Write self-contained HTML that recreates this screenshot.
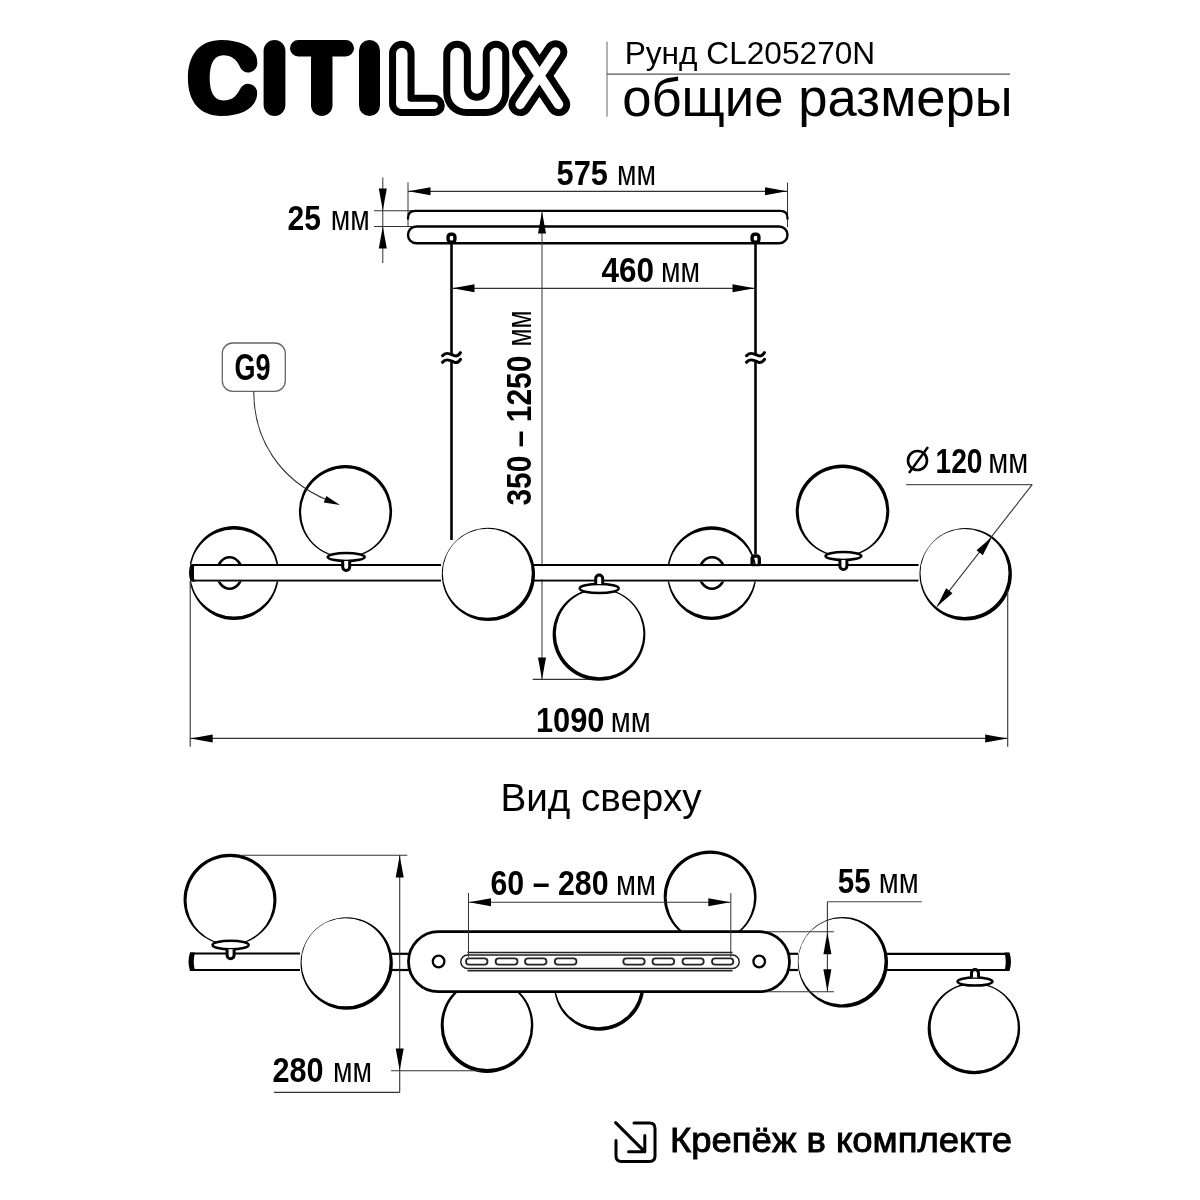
<!DOCTYPE html>
<html><head><meta charset="utf-8"><title>CITILUX Рунд CL205270N</title>
<style>html,body{margin:0;padding:0;background:#fff;width:1200px;height:1200px;overflow:hidden}svg{display:block;will-change:transform}text{font-family:"Liberation Sans",sans-serif}</style></head>
<body><svg width="1200" height="1200" viewBox="0 0 1200 1200"><defs><clipPath id="nobar"><path d="M0,0 H1200 V564 H0 Z M0,581.5 H1200 V1200 H0 Z"/></clipPath><clipPath id="nocan"><path d="M0,0 H1200 V1200 H0 Z M438.5,931.7 H759.5 A30,30 0 0 1 759.5,991.7 H438.5 A30,30 0 0 1 438.5,931.7 Z" clip-rule="evenodd"/></clipPath></defs><rect width="1200" height="1200" fill="#fff"/><path d="M257.2,62 C257.2,49 243,39.9 221.5,39.9 C200,39.9 187.9,54 187.9,78 C187.9,102 200,115.9 221.5,115.9 C243,115.9 257.2,107 257.2,93 A9.1,9.1 0 0 0 239.5,90 C236,97 231,100.5 223.5,100.5 C214,100.5 209.7,92 209.7,78 C209.7,64 214,55.3 223.5,55.3 C231,55.3 236,59 239.5,66 A9.1,9.1 0 0 0 257.2,62 Z" fill="#000"/>
<line x1="274.5" y1="51" x2="274.5" y2="105" stroke="#000" stroke-width="21.8" stroke-linecap="round"/>
<line x1="298.25" y1="48.25" x2="345.75" y2="48.25" stroke="#000" stroke-width="16.5" stroke-linecap="round"/>
<line x1="321.75" y1="58" x2="321.75" y2="105.25" stroke="#000" stroke-width="21.5" stroke-linecap="round"/>
<line x1="369.5" y1="50.5" x2="369.5" y2="105.5" stroke="#000" stroke-width="21" stroke-linecap="round"/>
<path d="M392.55,53.5 A9.25,9.25 0 0 1 411.05,53.5 V98.35 H434.3 A7.05,7.05 0 0 1 434.3,112.45 H401.55 A9,9 0 0 1 392.55,103.45 Z M446.75,54.5 A10.3,10.3 0 0 1 467.35,54.5 V87.8 A9.45,9.45 0 0 0 486.25,87.8 V54 A9.75,9.75 0 0 1 505.75,54 V92 C505.75,104 497,112.45 486,112.45 H466.5 C455.5,112.45 446.75,104 446.75,92 Z" fill="none" stroke="#000" stroke-width="7" stroke-linejoin="round"/>
<path d="M523.8,52 L558.5,104.4 M555.6,52 L520.2,104.4" fill="none" stroke="#000" stroke-width="23.4" stroke-linecap="round"/>
<path d="M523.8,52 L558.5,104.4 M555.6,52 L520.2,104.4" fill="none" stroke="#fff" stroke-width="9.6" stroke-linecap="round"/>
<line x1="607" y1="41.7" x2="607" y2="116.7" stroke="#888" stroke-width="1.3" stroke-linecap="butt"/>
<line x1="607" y1="74.2" x2="1010" y2="74.2" stroke="#555" stroke-width="1.2" stroke-linecap="butt"/>
<text x="624.7" y="64.2" font-family="Liberation Sans" font-size="31.5" font-weight="normal" text-anchor="start" fill="#000" textLength="250.5" lengthAdjust="spacingAndGlyphs">Рунд CL205270N</text>
<text x="622.2" y="115.8" font-family="Liberation Sans" font-size="53.6" font-weight="normal" text-anchor="start" fill="#000" textLength="390.5" lengthAdjust="spacingAndGlyphs">общие размеры</text>
<line x1="408" y1="182.5" x2="408" y2="227" stroke="#333" stroke-width="1.0" stroke-linecap="butt"/>
<line x1="787.5" y1="182.5" x2="787.5" y2="227" stroke="#333" stroke-width="1.0" stroke-linecap="butt"/>
<line x1="408" y1="191.3" x2="787.5" y2="191.3" stroke="#333" stroke-width="1.2" stroke-linecap="butt"/>
<path d="M408.50,191.30 L430.50,187.30 L430.50,195.30 Z" fill="#000"/>
<path d="M787.00,191.30 L765.00,195.30 L765.00,187.30 Z" fill="#000"/>
<text x="556.5" y="184.75" font-family="Liberation Sans" font-size="35.5" font-weight="bold" text-anchor="start" fill="#000" textLength="51.5" lengthAdjust="spacingAndGlyphs">575</text>
<text x="616.9000000000001" y="184.75" font-family="Liberation Sans" font-size="34.435" font-weight="normal" text-anchor="start" fill="#000" textLength="39.0" lengthAdjust="spacingAndGlyphs">мм</text>
<line x1="382.8" y1="177.5" x2="382.8" y2="263" stroke="#333" stroke-width="1.0" stroke-linecap="butt"/>
<path d="M382.80,210.50 L378.80,188.50 L386.80,188.50 Z" fill="#000"/>
<path d="M382.80,226.50 L386.80,248.50 L378.80,248.50 Z" fill="#000"/>
<line x1="374" y1="210.8" x2="412" y2="210.8" stroke="#333" stroke-width="1.1" stroke-linecap="butt"/>
<line x1="374" y1="226.5" x2="412" y2="226.5" stroke="#333" stroke-width="1.1" stroke-linecap="butt"/>
<text x="287.5" y="229.7" font-family="Liberation Sans" font-size="35.5" font-weight="bold" text-anchor="start" fill="#000" textLength="33.5" lengthAdjust="spacingAndGlyphs">25</text>
<text x="330.7" y="229.7" font-family="Liberation Sans" font-size="34.435" font-weight="normal" text-anchor="start" fill="#000" textLength="39.0" lengthAdjust="spacingAndGlyphs">мм</text>
<path d="M408,219.5 V218 Q408,210.8 415.2,210.8 H780.3 Q787.5,210.8 787.5,218 V219.5" fill="none" stroke="#000" stroke-width="2.2"/>
<rect x="408" y="226.5" width="379.5" height="16.8" rx="8.4" fill="none" stroke="#000" stroke-width="2.4"/>
<rect x="448.1" y="234.3" width="6.8" height="7.8" rx="2.5" fill="#fff" stroke="#000" stroke-width="3.4"/>
<rect x="752.1" y="234.3" width="6.8" height="7.8" rx="2.5" fill="#fff" stroke="#000" stroke-width="3.4"/>
<line x1="451.5" y1="243" x2="451.5" y2="355" stroke="#000" stroke-width="2.6" stroke-linecap="butt"/>
<line x1="451.5" y1="360" x2="451.5" y2="540" stroke="#000" stroke-width="2.6" stroke-linecap="butt"/>
<path d="M442.5,355.7 C446.5,350.7 451.5,354.7 454.5,355.7 C457.5,356.7 459.5,354.2 460.5,352.7" fill="none" stroke="#000" stroke-width="3" stroke-linecap="round"/>
<path d="M442.5,362.3 C446.5,357.3 451.5,361.3 454.5,362.3 C457.5,363.3 459.5,360.8 460.5,359.3" fill="none" stroke="#000" stroke-width="3" stroke-linecap="round"/>
<line x1="755.5" y1="243" x2="755.5" y2="355" stroke="#000" stroke-width="2.6" stroke-linecap="butt"/>
<line x1="755.5" y1="360" x2="755.5" y2="554" stroke="#000" stroke-width="2.6" stroke-linecap="butt"/>
<path d="M746.5,355.7 C750.5,350.7 755.5,354.7 758.5,355.7 C761.5,356.7 763.5,354.2 764.5,352.7" fill="none" stroke="#000" stroke-width="3" stroke-linecap="round"/>
<path d="M746.5,362.3 C750.5,357.3 755.5,361.3 758.5,362.3 C761.5,363.3 763.5,360.8 764.5,359.3" fill="none" stroke="#000" stroke-width="3" stroke-linecap="round"/>
<rect x="752.1" y="556" width="7.2" height="10" rx="2.5" fill="#fff" stroke="#000" stroke-width="3.3"/>
<line x1="451.5" y1="288.3" x2="755.5" y2="288.3" stroke="#333" stroke-width="1.2" stroke-linecap="butt"/>
<path d="M452.50,288.30 L474.50,284.30 L474.50,292.30 Z" fill="#000"/>
<path d="M754.50,288.30 L732.50,292.30 L732.50,284.30 Z" fill="#000"/>
<text x="601.5" y="282" font-family="Liberation Sans" font-size="35.5" font-weight="bold" text-anchor="start" fill="#000" textLength="52.5" lengthAdjust="spacingAndGlyphs">460</text>
<text x="661.0" y="282" font-family="Liberation Sans" font-size="34.435" font-weight="normal" text-anchor="start" fill="#000" textLength="39.0" lengthAdjust="spacingAndGlyphs">мм</text>
<line x1="542" y1="211" x2="542" y2="679.4" stroke="#444" stroke-width="1.1" stroke-linecap="butt"/>
<path d="M542.00,211.50 L546.00,233.50 L538.00,233.50 Z" fill="#000"/>
<path d="M542.00,679.40 L538.00,657.40 L546.00,657.40 Z" fill="#000"/>
<line x1="532.7" y1="679.4" x2="600" y2="679.4" stroke="#333" stroke-width="1.1" stroke-linecap="butt"/>
<text transform="translate(531.2,505.6) rotate(-90)" font-family="Liberation Sans" font-size="35.5" fill="#000"><tspan font-weight="bold" textLength="150" lengthAdjust="spacingAndGlyphs">350 – 1250</tspan><tspan dx="9" textLength="36" lengthAdjust="spacingAndGlyphs">мм</tspan></text>
<rect x="222.3" y="343" width="63" height="48.3" rx="10.5" fill="none" stroke="#666" stroke-width="1.3"/>
<text x="234.5" y="380" font-family="Liberation Sans" font-size="37.5" font-weight="bold" text-anchor="start" fill="#000" textLength="36" lengthAdjust="spacingAndGlyphs">G9</text>
<path d="M253.7,391.3 C253.7,440 280,480 327,500" fill="none" stroke="#333" stroke-width="1.1"/>
<path d="M340.00,505.00 L323.81,502.52 L326.32,495.99 Z" fill="#000"/>
<path d="M195.5,564 H190.5 Q187.5,572.75 190.5,581.5 H195.5 Q193,572.75 195.5,564 Z" fill="#000"/>
<line x1="192" y1="565" x2="441" y2="565" stroke="#000" stroke-width="2.2" stroke-linecap="butt"/>
<line x1="192" y1="580.5" x2="441" y2="580.5" stroke="#000" stroke-width="2.2" stroke-linecap="butt"/>
<line x1="533.5" y1="565" x2="918.5" y2="565" stroke="#000" stroke-width="2.2" stroke-linecap="butt"/>
<line x1="533.5" y1="580.5" x2="918.5" y2="580.5" stroke="#000" stroke-width="2.2" stroke-linecap="butt"/>
<rect x="194" y="566.2" width="724" height="13.1" fill="#fff"/>
<path d="M279.00,573.00 A45.00,47.00 0 1 0 189.00,573.00 A45.00,47.00 0 1 0 279.00,573.00 Z M277.50,573.00 A43.60,43.60 0 1 0 190.30,573.00 A43.60,43.60 0 1 0 277.50,573.00 Z" fill="#000" fill-rule="evenodd" clip-path="url(#nobar)"/>
<ellipse cx="229.6" cy="573" rx="12.7" ry="15.8" fill="none" stroke="#000" stroke-width="2.6" clip-path="url(#nobar)"/>
<path d="M392.10,511.50 A46.60,46.40 0 1 0 298.90,511.50 A46.60,46.40 0 1 0 392.10,511.50 Z M389.50,512.50 A44.20,44.20 0 1 0 301.10,512.50 A44.20,44.20 0 1 0 389.50,512.50 Z" fill="#000" fill-rule="evenodd"/>
<ellipse cx="346.2" cy="557" rx="18.5" ry="4" fill="#fff" stroke="#000" stroke-width="2.5"/>
<path d="M342.7,561 V567.0 A3.5,3.5 0 0 0 349.7,567.0 V561" fill="#fff" stroke="#000" stroke-width="3"/>
<path d="M535.00,574.40 A46.60,46.60 0 1 0 441.80,574.40 A46.60,46.60 0 1 0 535.00,574.40 Z M531.80,573.30 A44.50,44.50 0 1 0 442.80,573.30 A44.50,44.50 0 1 0 531.80,573.30 Z" fill="#000" fill-rule="evenodd"/>
<path d="M645.38,634.45 A46.38,46.23 0 1 0 552.62,634.45 A46.38,46.23 0 1 0 645.38,634.45 Z M643.38,633.50 A43.77,43.77 0 1 0 555.83,633.50 A43.77,43.77 0 1 0 643.38,633.50 Z" fill="#000" fill-rule="evenodd"/>
<ellipse cx="599.2" cy="588.5" rx="19.5" ry="4.5" fill="#fff" stroke="#000" stroke-width="2.5"/>
<path d="M595.7,584.0 V578.5 A3.5,3.5 0 0 1 602.7,578.5 V584.0" fill="#fff" stroke="#000" stroke-width="3"/>
<path d="M756.55,573.20 A44.75,46.85 0 1 0 667.05,573.20 A44.75,46.85 0 1 0 756.55,573.20 Z M755.25,573.20 A43.45,43.45 0 1 0 668.35,573.20 A43.45,43.45 0 1 0 755.25,573.20 Z" fill="#000" fill-rule="evenodd" clip-path="url(#nobar)"/>
<ellipse cx="712" cy="573" rx="13" ry="15.8" fill="none" stroke="#000" stroke-width="2.6" clip-path="url(#nobar)"/>
<path d="M889.30,510.60 A46.80,46.00 0 1 0 795.70,510.60 A46.80,46.00 0 1 0 889.30,510.60 Z M886.30,511.80 A43.80,43.80 0 1 0 798.70,511.80 A43.80,43.80 0 1 0 886.30,511.80 Z" fill="#000" fill-rule="evenodd"/>
<ellipse cx="843.4" cy="556" rx="17.9" ry="4" fill="#fff" stroke="#000" stroke-width="2.5"/>
<path d="M839.9,560 V566.0 A3.5,3.5 0 0 0 846.9,566.0 V560" fill="#fff" stroke="#000" stroke-width="3"/>
<path d="M1011.90,574.30 A46.20,46.20 0 1 0 919.50,574.30 A46.20,46.20 0 1 0 1011.90,574.30 Z M1008.50,573.10 A44.00,44.00 0 1 0 920.50,573.10 A44.00,44.00 0 1 0 1008.50,573.10 Z" fill="#000" fill-rule="evenodd"/>
<line x1="190.2" y1="581" x2="190.2" y2="746.7" stroke="#333" stroke-width="1.1" stroke-linecap="butt"/>
<line x1="1007.7" y1="591" x2="1007.7" y2="746.7" stroke="#333" stroke-width="1.1" stroke-linecap="butt"/>
<line x1="190.2" y1="738.4" x2="1007.7" y2="738.4" stroke="#333" stroke-width="1.2" stroke-linecap="butt"/>
<path d="M190.70,738.40 L212.70,734.40 L212.70,742.40 Z" fill="#000"/>
<path d="M1007.20,738.40 L985.20,742.40 L985.20,734.40 Z" fill="#000"/>
<text x="536" y="731.7" font-family="Liberation Sans" font-size="35.5" font-weight="bold" text-anchor="start" fill="#000" textLength="68.5" lengthAdjust="spacingAndGlyphs">1090</text>
<text x="610.7" y="731.7" font-family="Liberation Sans" font-size="34.435" font-weight="normal" text-anchor="start" fill="#000" textLength="40.0" lengthAdjust="spacingAndGlyphs">мм</text>
<line x1="906.2" y1="484.6" x2="1032.2" y2="484.6" stroke="#555" stroke-width="1.2" stroke-linecap="butt"/>
<line x1="1032.2" y1="484.6" x2="936.9" y2="606.7" stroke="#333" stroke-width="1.1" stroke-linecap="butt"/>
<path d="M992.00,537.00 L982.84,555.22 L976.54,550.30 Z" fill="#000"/>
<path d="M937.00,606.50 L946.16,588.28 L952.46,593.20 Z" fill="#000"/>
<circle cx="917.5" cy="460.5" r="9.5" fill="none" stroke="#000" stroke-width="2.6"/>
<line x1="909" y1="473" x2="928" y2="447" stroke="#000" stroke-width="2.4" stroke-linecap="butt"/>
<text x="935.5" y="472.9" font-family="Liberation Sans" font-size="35.5" font-weight="bold" text-anchor="start" fill="#000" textLength="47" lengthAdjust="spacingAndGlyphs">120</text>
<text x="988.2" y="472.9" font-family="Liberation Sans" font-size="34.435" font-weight="normal" text-anchor="start" fill="#000" textLength="40.0" lengthAdjust="spacingAndGlyphs">мм</text>
<text x="500.5" y="811" font-family="Liberation Sans" font-size="39.5" font-weight="normal" text-anchor="start" fill="#000" textLength="201" lengthAdjust="spacingAndGlyphs">Вид сверху</text>
<path d="M195,952.5 H190 Q187,961.75 190,971 H195 Q192.5,961.75 195,952.5 Z" fill="#000"/>
<line x1="190" y1="953.5" x2="300" y2="953.5" stroke="#000" stroke-width="2.2" stroke-linecap="butt"/>
<line x1="190" y1="970" x2="300" y2="970" stroke="#000" stroke-width="2.2" stroke-linecap="butt"/>
<line x1="391" y1="953.8" x2="409" y2="953.8" stroke="#000" stroke-width="2.2" stroke-linecap="butt"/>
<line x1="391" y1="970" x2="409" y2="970" stroke="#000" stroke-width="2.2" stroke-linecap="butt"/>
<line x1="789" y1="953.8" x2="798" y2="953.8" stroke="#000" stroke-width="2.2" stroke-linecap="butt"/>
<line x1="789" y1="970" x2="798" y2="970" stroke="#000" stroke-width="2.2" stroke-linecap="butt"/>
<line x1="887" y1="953.8" x2="1009" y2="953.8" stroke="#000" stroke-width="2.2" stroke-linecap="butt"/>
<line x1="887" y1="970" x2="1009" y2="970" stroke="#000" stroke-width="2.2" stroke-linecap="butt"/>
<path d="M1004.5,952.5 H1009.5 Q1012.5,961.75 1009.5,971 H1004.5 Q1007,961.75 1004.5,952.5 Z" fill="#000"/>
<path d="M276.45,899.40 A46.45,45.55 0 1 0 183.55,899.40 A46.45,45.55 0 1 0 276.45,899.40 Z M273.45,900.50 A43.45,43.45 0 1 0 186.55,900.50 A43.45,43.45 0 1 0 273.45,900.50 Z" fill="#000" fill-rule="evenodd"/>
<ellipse cx="230.6" cy="945" rx="18.1" ry="4.2" fill="#fff" stroke="#000" stroke-width="2.5"/>
<path d="M227.1,949.2 V955.2 A3.5,3.5 0 0 0 234.1,955.2 V949.2" fill="#fff" stroke="#000" stroke-width="3"/>
<path d="M392.85,963.40 A46.15,46.25 0 1 0 300.55,963.40 A46.15,46.25 0 1 0 392.85,963.40 Z M389.65,962.20 A44.05,44.05 0 1 0 301.55,962.20 A44.05,44.05 0 1 0 389.65,962.20 Z" fill="#000" fill-rule="evenodd"/>
<path d="M533.27,1025.85 A46.28,46.12 0 1 0 440.73,1025.85 A46.28,46.12 0 1 0 533.27,1025.85 Z M530.88,1024.80 A43.58,43.58 0 1 0 443.73,1024.80 A43.58,43.58 0 1 0 530.88,1024.80 Z" fill="#000" fill-rule="evenodd" clip-path="url(#nocan)"/>
<path d="M644.38,985.25 A45.17,45.42 0 1 0 554.03,985.25 A45.17,45.42 0 1 0 644.38,985.25 Z M641.18,984.30 A42.97,42.97 0 1 0 555.23,984.30 A42.97,42.97 0 1 0 641.18,984.30 Z" fill="#000" fill-rule="evenodd" clip-path="url(#nocan)"/>
<path d="M756.52,896.55 A46.42,46.17 0 1 0 663.68,896.55 A46.42,46.17 0 1 0 756.52,896.55 Z M754.12,897.50 A43.72,43.72 0 1 0 666.67,897.50 A43.72,43.72 0 1 0 754.12,897.50 Z" fill="#000" fill-rule="evenodd" clip-path="url(#nocan)"/>
<path d="M888.00,962.30 A45.10,45.30 0 1 0 797.80,962.30 A45.10,45.30 0 1 0 888.00,962.30 Z M884.60,961.30 A43.10,43.10 0 1 0 798.40,961.30 A43.10,43.10 0 1 0 884.60,961.30 Z" fill="#000" fill-rule="evenodd"/>
<path d="M1020.15,1028.50 A46.25,45.75 0 1 0 927.65,1028.50 A46.25,45.75 0 1 0 1020.15,1028.50 Z M1017.75,1027.50 A43.55,43.55 0 1 0 930.65,1027.50 A43.55,43.55 0 1 0 1017.75,1027.50 Z" fill="#000" fill-rule="evenodd"/>
<ellipse cx="975" cy="981.6" rx="17.5" ry="4" fill="#fff" stroke="#000" stroke-width="2.5"/>
<path d="M971.5,977.6 V973.1 A3.5,3.5 0 0 1 978.5,973.1 V977.6" fill="#fff" stroke="#000" stroke-width="3"/>
<rect x="408.5" y="931.7" width="381" height="60" rx="30" fill="none" stroke="#000" stroke-width="2.8"/>
<circle cx="438.6" cy="961.5" r="5.8" fill="none" stroke="#000" stroke-width="2.3"/>
<circle cx="759.2" cy="961.5" r="5.8" fill="none" stroke="#000" stroke-width="2.3"/>
<path d="M467.5,955 H732.5 A6.7,6.7 0 0 1 732.5,968.4 H467.5 A6.7,6.7 0 0 1 467.5,955 Z" fill="none" stroke="#222" stroke-width="1.5"/>
<line x1="467.5" y1="952.6" x2="732.5" y2="952.6" stroke="#222" stroke-width="1.5" stroke-linecap="butt"/>
<line x1="467.5" y1="970.8" x2="732.5" y2="970.8" stroke="#222" stroke-width="1.5" stroke-linecap="butt"/>
<rect x="466" y="958.4" width="21.5" height="6.3" rx="3.15" fill="none" stroke="#222" stroke-width="1.8"/>
<rect x="495.6" y="958.4" width="21.899999999999977" height="6.3" rx="3.15" fill="none" stroke="#222" stroke-width="1.8"/>
<rect x="525" y="958.4" width="21.5" height="6.3" rx="3.15" fill="none" stroke="#222" stroke-width="1.8"/>
<rect x="554.8" y="958.4" width="21.700000000000045" height="6.3" rx="3.15" fill="none" stroke="#222" stroke-width="1.8"/>
<rect x="623.3" y="958.4" width="21.40000000000009" height="6.3" rx="3.15" fill="none" stroke="#222" stroke-width="1.8"/>
<rect x="652.5" y="958.4" width="21.700000000000045" height="6.3" rx="3.15" fill="none" stroke="#222" stroke-width="1.8"/>
<rect x="682.5" y="958.4" width="21.200000000000045" height="6.3" rx="3.15" fill="none" stroke="#222" stroke-width="1.8"/>
<rect x="712" y="958.4" width="21.299999999999955" height="6.3" rx="3.15" fill="none" stroke="#222" stroke-width="1.8"/>
<line x1="468.5" y1="893" x2="468.5" y2="957" stroke="#333" stroke-width="1.0" stroke-linecap="butt"/>
<line x1="730.8" y1="893" x2="730.8" y2="957" stroke="#333" stroke-width="1.0" stroke-linecap="butt"/>
<line x1="468.5" y1="902.2" x2="730.8" y2="902.2" stroke="#333" stroke-width="1.1" stroke-linecap="butt"/>
<path d="M469.00,902.20 L491.00,898.20 L491.00,906.20 Z" fill="#000"/>
<path d="M730.30,902.20 L708.30,906.20 L708.30,898.20 Z" fill="#000"/>
<text x="490.5" y="895.3" font-family="Liberation Sans" font-size="35.5" font-weight="bold" text-anchor="start" fill="#000" textLength="118" lengthAdjust="spacingAndGlyphs">60 – 280</text>
<text x="616" y="895.3" font-family="Liberation Sans" font-size="34.5" font-weight="normal" text-anchor="start" fill="#000" textLength="40" lengthAdjust="spacingAndGlyphs">мм</text>
<line x1="399.7" y1="855" x2="399.7" y2="1092.4" stroke="#333" stroke-width="1.1" stroke-linecap="butt"/>
<line x1="241.5" y1="855.2" x2="407.3" y2="855.2" stroke="#333" stroke-width="1.1" stroke-linecap="butt"/>
<line x1="391" y1="1070.8" x2="480" y2="1070.8" stroke="#333" stroke-width="1.1" stroke-linecap="butt"/>
<line x1="274" y1="1092.4" x2="399.7" y2="1092.4" stroke="#333" stroke-width="1.1" stroke-linecap="butt"/>
<path d="M399.70,855.50 L403.70,877.50 L395.70,877.50 Z" fill="#000"/>
<path d="M399.70,1070.50 L395.70,1048.50 L403.70,1048.50 Z" fill="#000"/>
<text x="272.5" y="1081.6" font-family="Liberation Sans" font-size="35.5" font-weight="bold" text-anchor="start" fill="#000" textLength="51" lengthAdjust="spacingAndGlyphs">280</text>
<text x="332.9" y="1081.6" font-family="Liberation Sans" font-size="34.435" font-weight="normal" text-anchor="start" fill="#000" textLength="39.0" lengthAdjust="spacingAndGlyphs">мм</text>
<line x1="767.8" y1="931.7" x2="833.9" y2="931.7" stroke="#333" stroke-width="1.1" stroke-linecap="butt"/>
<line x1="767.8" y1="991.7" x2="833.9" y2="991.7" stroke="#333" stroke-width="1.1" stroke-linecap="butt"/>
<line x1="827.4" y1="901.8" x2="827.4" y2="991.7" stroke="#333" stroke-width="1.1" stroke-linecap="butt"/>
<line x1="827.4" y1="901.8" x2="921.8" y2="901.8" stroke="#444" stroke-width="1.1" stroke-linecap="butt"/>
<path d="M827.40,932.20 L831.40,954.20 L823.40,954.20 Z" fill="#000"/>
<path d="M827.40,991.20 L823.40,969.20 L831.40,969.20 Z" fill="#000"/>
<text x="837.8" y="893.1" font-family="Liberation Sans" font-size="35.5" font-weight="bold" text-anchor="start" fill="#000" textLength="33" lengthAdjust="spacingAndGlyphs">55</text>
<text x="878.7" y="893.1" font-family="Liberation Sans" font-size="34.435" font-weight="normal" text-anchor="start" fill="#000" textLength="40.0" lengthAdjust="spacingAndGlyphs">мм</text>
<path d="M616,1140.6 V1156 Q616,1161.5 621.5,1161.5 H649.5 Q655,1161.5 655,1156 V1128.5 Q655,1123 649.5,1123 H634" fill="none" stroke="#000" stroke-width="3" stroke-linecap="round"/>
<path d="M615.6,1122.6 L644.6,1151.6 M644.8,1135.4 V1151.8 H628.6" fill="none" stroke="#000" stroke-width="3" stroke-linecap="round" stroke-linejoin="round"/>
<text x="670" y="1152" font-family="Liberation Sans" font-size="34.2" font-weight="normal" text-anchor="start" fill="#000" textLength="342" lengthAdjust="spacingAndGlyphs" stroke="#000" stroke-width="0.9">Крепёж в комплекте</text></svg></body></html>
